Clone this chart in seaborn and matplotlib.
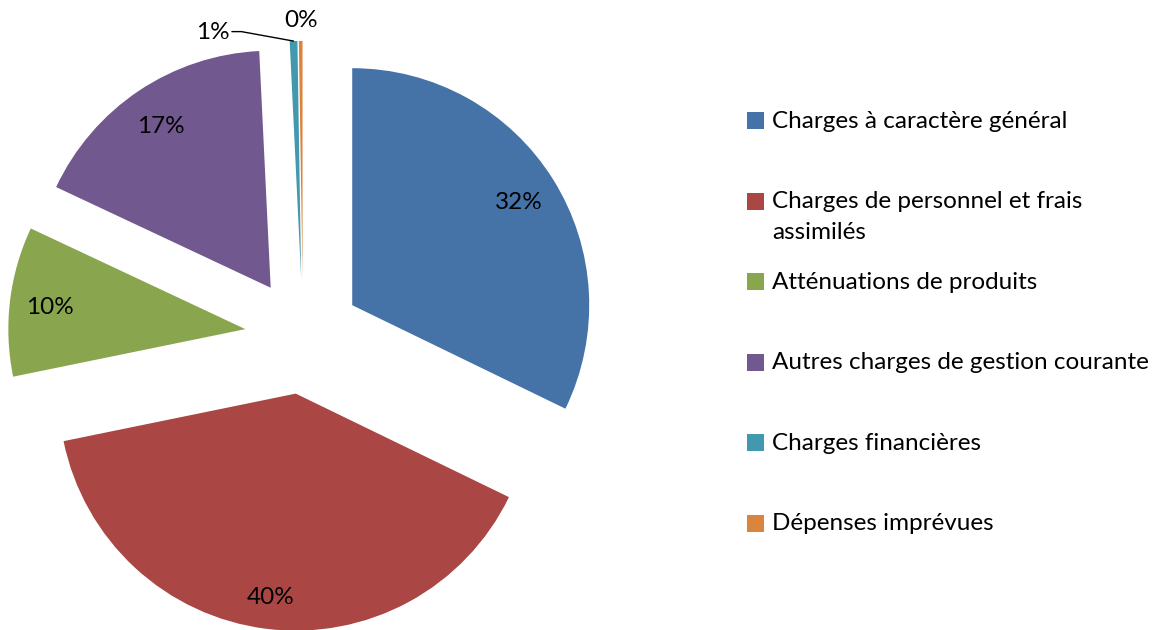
import matplotlib
matplotlib.use("Agg")
import numpy as np
import seaborn as sns
import matplotlib.pyplot as plt
from matplotlib.patches import Rectangle

# Data (share of operating expenses, %)
categories = [
    "Charges à caractère général",
    "Charges de personnel et frais\nassimilés",
    "Atténuations de produits",
    "Autres charges de gestion courante",
    "Charges financières",
    "Dépenses imprévues",
]
shares = [32.2, 39.6, 10.2, 17.25, 0.52, 0.25]
colors = ["#4572A7", "#AA4643", "#89A54E", "#71588F", "#4198AF", "#DB843D"]

sns.set_theme(style="white")
plt.rcParams['font.family'] = ['Lato', 'DejaVu Sans']
palette = sns.color_palette(colors)

W, H = 1165, 630
R = 237            # pie radius in pixels
cx, cy = 303, 336  # pie centre in pixels (from top-left)
FS = 17.5

fig = plt.figure(figsize=(W / 100, H / 100), dpi=100)
ax = fig.add_axes([0, 0, 1, 1])
wedges, _ = ax.pie(shares, colors=palette, explode=[0.245] * len(shares),
                   startangle=90, counterclock=False,
                   wedgeprops=dict(linewidth=0))
ax.set_xlim(-cx / R, (W - cx) / R)
ax.set_ylim(-(H - cy) / R, cy / R)
ax.set_aspect('equal')
ax.axis('off')

# Percentage labels
total = sum(shares)
for i, (w, v) in enumerate(zip(wedges, shares)):
    pct = f"{v / total * 100:.0f}%"
    mid = np.deg2rad((w.theta1 + w.theta2) / 2)
    x0, y0 = w.center
    if v > 2:
        r = 0.86 if i == 1 else 0.83
        ax.text(x0 + r * np.cos(mid), y0 + r * np.sin(mid), pct,
                ha='center', va='center_baseline', fontsize=FS, color='black')
    else:
        # small slices: label outside, the first one with a leader line
        tx, ty = x0 + np.cos(mid), y0 + np.sin(mid)
        if i == 4:
            ax.plot([tx, tx - 0.22, tx - 0.26], [ty, ty + 0.04, ty + 0.04],
                    color='black', lw=1)
            ax.text(tx - 0.27, ty + 0.045, pct, ha='right',
                    va='center_baseline', fontsize=FS, color='black')
        else:
            ax.text(tx, ty + 0.095, pct, ha='center', va='center_baseline',
                    fontsize=FS, color='black')

# Legend (drawn by hand to mimic the spreadsheet layout)
for i, (lab, col) in enumerate(zip(categories, palette)):
    yc = 121 + 80.4 * i
    fig.patches.append(Rectangle((747 / W, 1 - (yc + 8.5) / H), 17 / W, 17 / H,
                                 transform=fig.transFigure, facecolor=col,
                                 edgecolor='none'))
    fig.text(772 / W, 1 - (yc - 10) / H, lab, ha='left', va='top',
             fontsize=FS, color='black', linespacing=1.55)

fig.savefig("out.png", dpi=100)
